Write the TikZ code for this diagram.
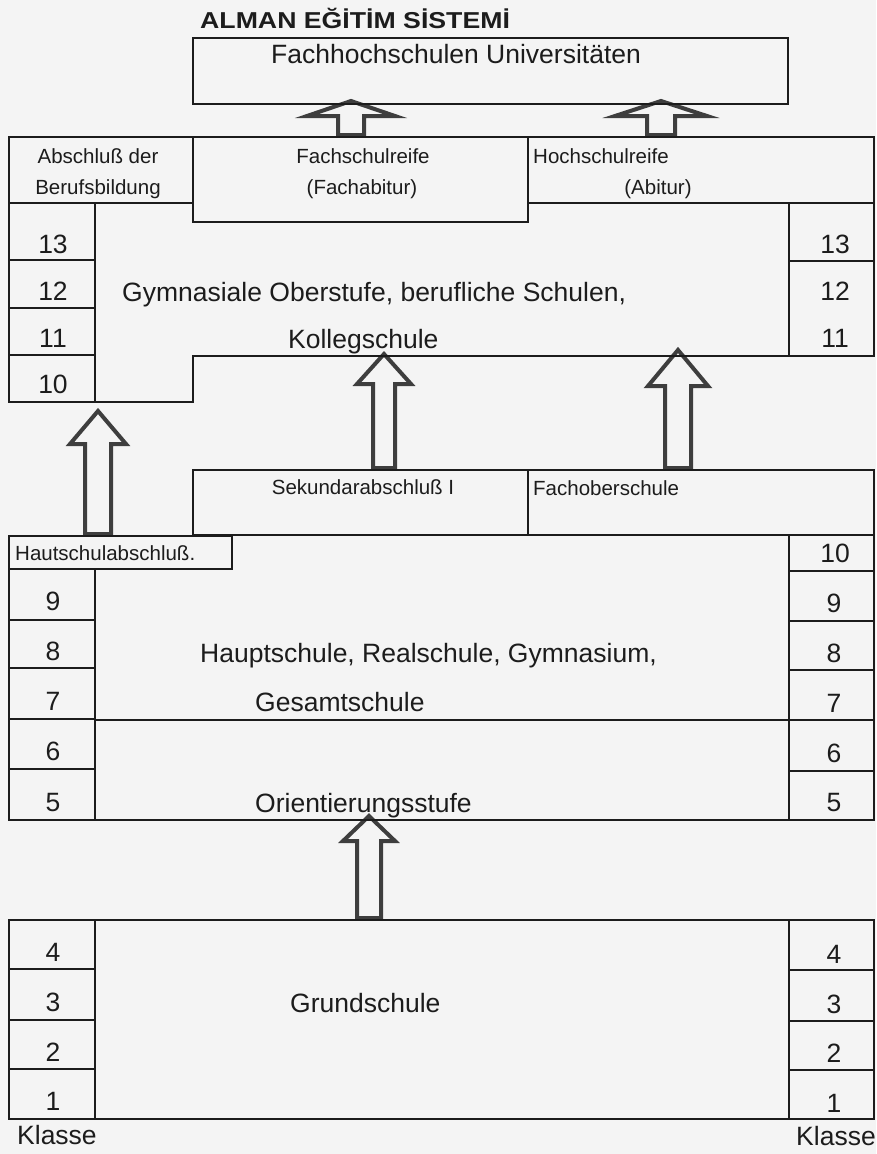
\documentclass[tikz,border=0pt]{standalone}
\usepackage{fontspec}
\usepackage{graphicx}
\setmainfont{Liberation Sans}
\usetikzlibrary{calc}
\definecolor{bg}{RGB}{244,244,244}
\definecolor{ink}{RGB}{28,28,28}
\definecolor{arrowink}{RGB}{62,62,62}
\newcommand\bigtxt{\fontsize{26.5}{30}\selectfont}
\newcommand\smalltxt{\fontsize{20.5}{24}\selectfont}
% #1 tip, #2 foot, #3 shaft half width, #4 head half width, #5 head length
\newcommand\hollowarrow[5]{%
  \draw[hollow] (#1) -- ($(#1)+(#4,#5)$) -- ($(#1)+(#3,#5)$) -- ($(#2)+(#3,0)$)
    -- ($(#2)+(-#3,0)$) -- ($(#1)+(-#3,#5)$) -- ($(#1)+(-#4,#5)$) -- cycle;}
\begin{document}
\begin{tikzpicture}[x=1pt,y=-1pt,
  boxline/.style={draw=ink,line width=2pt,line cap=rect},
  big/.style={font=\bigtxt,text=ink,inner sep=0pt,anchor=base},
  bigl/.style={big,anchor=base west},
  small/.style={font=\smalltxt,text=ink,inner sep=0pt,anchor=base},
  smalll/.style={small,anchor=base west},
  hollow/.style={draw=arrowink,line width=4pt,fill=bg,line join=miter}]

\path[fill=bg] (0,0) rectangle (876,1154);
\useasboundingbox (0,0) rectangle (876,1154);

% ---------- arrow end points ----------
\coordinate (a1tip) at (351,101);  \coordinate (a1foot) at (351,135);
\coordinate (a2tip) at (661,101);  \coordinate (a2foot) at (661,135);
\coordinate (a3tip) at (384,354);  \coordinate (a3foot) at (384,468);
\coordinate (a4tip) at (678,350);  \coordinate (a4foot) at (678,468);
\coordinate (a5tip) at (98,411);   \coordinate (a5foot) at (98,534);
\coordinate (a6tip) at (369,816);  \coordinate (a6foot) at (369,918);

\hollowarrow{a1tip}{a1foot}{13}{44}{15}
\hollowarrow{a2tip}{a2foot}{14}{46}{15}
\hollowarrow{a3tip}{a3foot}{11}{27}{30}
\hollowarrow{a4tip}{a4foot}{13}{30}{36}
\hollowarrow{a5tip}{a5foot}{13}{28}{33}
\hollowarrow{a6tip}{a6foot}{12}{26}{25}

% ---------- title ----------
\node[anchor=base west,inner sep=0pt,text=ink] (title) at (200,28)
  {\scalebox{1.16}[1]{\fontsize{23}{26}\selectfont\bfseries ALMAN EĞİTİM SİSTEMİ}};

% ---------- top box ----------
\draw[boxline] (193,38) rectangle (788,104);
\node[bigl] (uni) at (271,63) {Fachhochschulen Universitäten};

% ---------- upper secondary tier ----------
\draw[boxline] (9,137) -- (874,137);
\draw[boxline] (9,203) -- (193,203);
\draw[boxline] (193,137) rectangle (528,222);
\draw[boxline] (528,203) -- (874,203);
\draw[boxline] (9,137) -- (9,402) -- (193,402) -- (193,356) -- (874,356) -- (874,137);
\draw[boxline] (95,203) -- (95,402);
\draw[boxline] (9,260) -- (95,260);
\draw[boxline] (9,308) -- (95,308);
\draw[boxline] (9,355) -- (95,355);
\draw[boxline] (789,203) -- (789,356);
\draw[boxline] (789,261) -- (874,261);

\node[small] (abs1) at (98,163) {Abschluß der};
\node[small] (abs2) at (98,194) {Berufsbildung};
\node[small] (fsr1) at (363,163) {Fachschulreife};
\node[small] (fsr2) at (362,194) {(Fachabitur)};
\node[smalll] (hsr1) at (533,163) {Hochschulreife};
\node[small] (hsr2) at (658,194) {(Abitur)};

\node[big] (l13) at (53,253) {13};
\node[big] (l12) at (53,300) {12};
\node[big] (l11) at (53,347) {11};
\node[big] (l10) at (53,393) {10};
\node[big] (r13) at (835,253) {13};
\node[big] (r12) at (835,300) {12};
\node[big] (r11) at (835,347) {11};

\node[bigl] (gym1) at (122,301) {Gymnasiale Oberstufe, berufliche Schulen,};
\node[bigl] (gym2) at (288,348) {Kollegschule};

% ---------- lower secondary tier ----------
\draw[boxline] (193,470) rectangle (528,535);
\draw[boxline] (528,470) rectangle (874,535);
\draw[boxline] (9,536) rectangle (232,569);
\draw[boxline] (9,569) -- (9,820) -- (874,820) -- (874,535);
\draw[boxline] (95,569) -- (95,820);
\foreach \yy in {620,668,719,769} \draw[boxline] (9,\yy) -- (95,\yy);
\draw[boxline] (789,535) -- (789,820);
\foreach \yy in {571,621,670,720,771} \draw[boxline] (789,\yy) -- (874,\yy);
\draw[boxline] (95,720) -- (789,720);

\node[small] (sek) at (363,494) {Sekundarabschluß I};
\node[smalll] (fos) at (533,495) {Fachoberschule};
\node[smalll] (hsa) at (15,560) {Hautschulabschluß.};

\node[big] (l9) at (53,610) {9};
\node[big] (l8) at (53,660) {8};
\node[big] (l7) at (53,710) {7};
\node[big] (l6) at (53,760) {6};
\node[big] (l5) at (53,811) {5};
\node[big] (r10) at (835,562) {10};
\node[big] (r9) at (834,612) {9};
\node[big] (r8) at (834,662) {8};
\node[big] (r7) at (834,712) {7};
\node[big] (r6) at (834,762) {6};
\node[big] (r5) at (834,811) {5};

\node[bigl] (haupt1) at (200,662) {Hauptschule, Realschule, Gymnasium,};
\node[bigl] (haupt2) at (255,711) {Gesamtschule};
\node[bigl] (orient) at (255,812) {Orientierungsstufe};

% ---------- primary tier ----------
\draw[boxline] (9,920) rectangle (874,1119);
\draw[boxline] (95,920) -- (95,1119);
\foreach \yy in {969,1020,1069} \draw[boxline] (9,\yy) -- (95,\yy);
\draw[boxline] (789,920) -- (789,1119);
\foreach \yy in {970,1021,1070} \draw[boxline] (789,\yy) -- (874,\yy);

\node[big] (l4) at (53,961) {4};
\node[big] (l3) at (53,1011) {3};
\node[big] (l2) at (53,1061) {2};
\node[big] (l1) at (53,1110) {1};
\node[big] (r4) at (834,963) {4};
\node[big] (r3) at (834,1013) {3};
\node[big] (r2) at (834,1062) {2};
\node[big] (r1) at (834,1112) {1};

\node[bigl] (grund) at (290,1012) {Grundschule};
\node[bigl] (klassel) at (17,1144) {Klasse};
\node[bigl] (klasser) at (796,1145) {Klasse};
\end{tikzpicture}
\end{document}
